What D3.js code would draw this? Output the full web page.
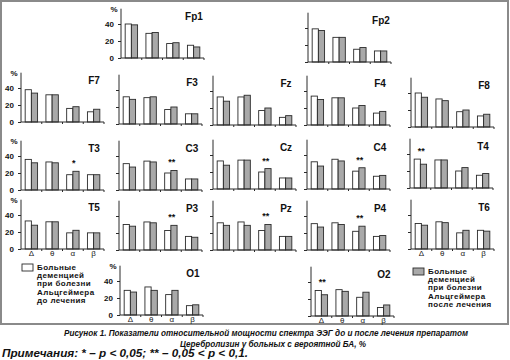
<!DOCTYPE html>
<html><head><meta charset="utf-8">
<script src="https://cdn.jsdelivr.net/npm/d3@7"></script>
<style>
html,body{margin:0;padding:0;background:#fff;}
svg{display:block;font-family:"Liberation Sans",Arial,sans-serif;}
</style></head>
<body><svg id="c" width="510" height="360"></svg>
<script>
// ---- data ----
const bands = ["Δ","θ","α","β"];
const electrodes = ["Fp1","Fp2","F7","F3","Fz","F4","F8","T3","C3","Cz","C4","T4","T5","P3","Pz","P4","T6","O1","O2"];
const before = [[40,29,17,15],[39,29,15,13],[38,32,16,12],[32,31,17,12],[33,33,17,9],[34,32,20,14],[40,33,18,13],
  [36,33,18,18],[31,34,20,13],[33,34,20,13],[32,35,21,15],[34,33,20,15],
  [33,32,19,19],[30,33,23,16],[32,33,23,16],[31,32,22,16],[30,32,19,22],[29,33,24,11],[30,31,22,10]];
const after = [[39,30,18,13],[37,29,17,13],[34,32,18,15],[29,32,20,12],[28,35,20,11],[30,32,23,16],[35,31,20,15],
  [32,32,22,18],[27,33,23,13],[28,34,24,13],[27,33,25,16],[28,33,24,17],
  [28,32,22,19],[28,32,29,15],[29,29,30,16],[27,30,28,17],[28,31,22,21],[27,29,29,12],[25,29,28,13]];
const yTicks = [0,20,40];
const sigElectrode = ["T3","C3","Cz","C4","T4","P3","Pz","P4","O2"];
const sigBand = ["α","α","α","α","Δ","α","α","α","Δ"];
const sigMark = ["*","**","**","**","**","**","**","**","**"];
const legendBefore = ["Больные","деменцией","при болезни","Альцгеймера","до лечения"];
const legendAfter = ["Больные","деменцией","при болезни","Альцгеймера","после лечения"];
const caption1 = "Рисунок 1. Показатели относительной мощности спектра ЭЭГ до и после лечения препаратом";
const caption2 = "Церебролизин у больных с вероятной БА, %";
const note = "Примечания: * – p < 0,05; ** – 0,05 < p < 0,1.";

// ---- layout (positions only) ----
const layout = {
  Fp1:[121,58,1,0], Fp2:[308,62,0,0],
  F7:[21,122,1,0], F3:[119,124,0,0], Fz:[213,125,0,0], F4:[307,125,0,0], F8:[411,127,0,0],
  T3:[21,190,1,0], C3:[119,190,0,0], Cz:[213,189,0,0], C4:[307,189,0,0], T4:[410,188,0,0],
  T5:[21,249,1,1], P3:[119,250,0,0], Pz:[213,250,0,0], P4:[307,250,0,0], T6:[411,249,0,1],
  O1:[120,315,1,1], O2:[311,316,0,1]
};
const W = 83, PX = 0.85, YMAX = 58, BW = 6.2;
const ink = "#2a2a2a", grayFill = "#a9a9a9";

const svg = d3.select("#c");
svg.append("rect").attr("x",1).attr("y",1).attr("width",507).attr("height",323)
  .attr("fill","none").attr("stroke","#8a8a8a").attr("stroke-width",2);

electrodes.forEach((name,i)=>{
  const [ax,zy,showY,showX] = layout[name];
  const x = d3.scaleBand().domain(bands).range([ax,ax+W]);
  const y = d3.scaleLinear().domain([0,YMAX]).range([zy,zy-YMAX*PX]);
  const g = svg.append("g");
  const rows = bands.map((b,k)=>({b,v0:before[i][k],v1:after[i][k]}));
  g.selectAll("rect.b0").data(rows).join("rect")
    .attr("x",d=>x(d.b)+x.bandwidth()/2-BW).attr("y",d=>y(d.v0))
    .attr("width",BW).attr("height",d=>y(0)-y(d.v0))
    .attr("fill","#fff").attr("stroke",ink).attr("stroke-width",0.9);
  g.selectAll("rect.b1").data(rows).join("rect")
    .attr("x",d=>x(d.b)+x.bandwidth()/2).attr("y",d=>y(d.v1))
    .attr("width",BW).attr("height",d=>y(0)-y(d.v1))
    .attr("fill",grayFill).attr("stroke",ink).attr("stroke-width",0.9);
  const ya = d3.axisLeft(y).tickValues(yTicks).tickSize(3).tickFormat(showY?d3.format("d"):"");
  const yg = g.append("g").attr("transform",`translate(${ax},0)`).call(ya);
  yg.select(".domain").attr("d",`M-0,${y(YMAX)}V${zy}`);
  yg.selectAll("path,line").attr("stroke",ink);
  yg.selectAll("text").attr("font-size",8).attr("font-weight","bold").attr("fill","#111").attr("dx",-1);
  if(showY){
    g.append("text").attr("x",ax-7).attr("y",y(YMAX)+3).attr("text-anchor","middle")
      .attr("font-size",8).attr("font-weight","bold").attr("fill","#111").text("%");
  }
  const xa = d3.axisBottom(x).tickSize(0).tickFormat(showX?(d=>d):"");
  const xg = g.append("g").attr("transform",`translate(0,${zy})`).call(xa);
  xg.select(".domain").attr("d",`M${ax},0H${ax+W}`).attr("stroke",ink);
  xg.selectAll("text").attr("font-size",8).attr("fill","#222").attr("dy","0.55em");
  g.selectAll("line.bt").data(bands).join("line")
    .attr("x1",d=>x(d)+x.bandwidth()).attr("x2",d=>x(d)+x.bandwidth())
    .attr("y1",zy).attr("y2",zy+2).attr("stroke",ink);
  g.append("text").attr("x",ax+73).attr("y",zy-38).attr("text-anchor","middle")
    .attr("font-size",10).attr("font-weight","bold").attr("fill","#111").text(name);
  sigElectrode.forEach((e,s)=>{
    if(e!==name) return;
    const k = bands.indexOf(sigBand[s]);
    const top = Math.max(before[i][k],after[i][k]);
    g.append("text").attr("x",x(sigBand[s])+x.bandwidth()/2+1).attr("y",y(top+6))
      .attr("text-anchor","middle").attr("font-size",9).attr("font-weight","bold")
      .attr("fill","#111").text(sigMark[s]);
  });
});

function legend(bx,by,fill,lines){
  svg.append("rect").attr("x",bx).attr("y",by).attr("width",11).attr("height",7)
    .attr("fill",fill).attr("stroke",ink).attr("stroke-width",0.9);
  svg.append("g").selectAll("text").data(lines).join("text")
    .attr("x",bx+15).attr("y",(d,j)=>by+6+j*8.2)
    .attr("font-size",8).attr("font-weight","bold").attr("letter-spacing",0.4).attr("fill","#111").text(d=>d);
}
legend(22,264,"#fff",legendBefore);
legend(413,268,grayFill,legendAfter);

function cap(txt,x0,x1,yb,fs){
  svg.append("text").attr("x",x0).attr("y",yb)
    .attr("textLength",x1-x0).attr("lengthAdjust","spacingAndGlyphs")
    .attr("font-size",fs).attr("font-weight","bold").attr("font-style","italic").attr("fill","#111").text(txt);
}
cap(caption1,64,468,336,9);
cap(caption2,180,366,347,9.5);
cap(note,2,248,357,10);
</script></body></html>
